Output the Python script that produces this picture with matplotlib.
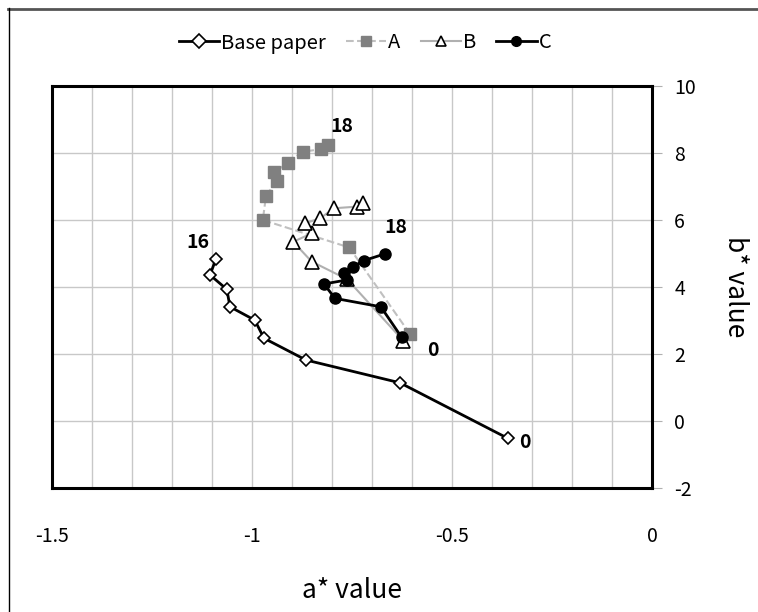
import matplotlib
matplotlib.use("Agg")
import matplotlib.pyplot as plt
from matplotlib.lines import Line2D
from matplotlib.ticker import MultipleLocator

plt.rcParams['font.family'] = ['Noto Sans CJK KR', 'DejaVu Sans']
plt.rcParams['axes.unicode_minus'] = False

# a*, b* values (time order 0 ... end)
base_a = [-0.36, -0.63, -0.865, -0.97, -0.993, -1.055, -1.063, -1.105, -1.09]
base_b = [-0.52, 1.14, 1.82, 2.47, 3.01, 3.41, 3.93, 4.36, 4.84]

a_a = [-0.605, -0.757, -0.973, -0.965, -0.938, -0.945, -0.91, -0.873, -0.828, -0.809]
a_b = [2.60, 5.18, 6.00, 6.72, 7.17, 7.42, 7.71, 8.04, 8.11, 8.24]

b_a = [-0.622, -0.762, -0.851, -0.897, -0.851, -0.868, -0.83, -0.795, -0.737, -0.723]
b_b = [2.40, 4.23, 4.76, 5.35, 5.60, 5.90, 6.05, 6.35, 6.40, 6.52]

c_a = [-0.626, -0.678, -0.7925, -0.82, -0.763, -0.77, -0.747, -0.72, -0.6675]
c_b = [2.50, 3.41, 3.66, 4.09, 4.21, 4.41, 4.61, 4.79, 4.99]

x_ticks = [-1.5, -1, -0.5, 0]
x_ticklabels = ['-1.5', '-1', '-0.5', '0']
y_ticks = [-2, 0, 2, 4, 6, 8, 10]

fig = plt.figure(figsize=(7.58, 6.12), dpi=100)
ax = fig.add_axes([52/758, 1-488/612, 600/758, 402/612])

ax.plot(base_a, base_b, '-', color='black', lw=2, marker='D', ms=6.5,
        mfc='white', mec='black', mew=1.2, label='Base paper', zorder=5)
ax.plot(a_a, a_b, '--', color='#c0c0c0', lw=1.5, marker='s', ms=9,
        mfc='#808080', mec='#808080', label='A', zorder=4)
ax.plot(b_a, b_b, '-', color='#b0b0b0', lw=1.5, marker='^', ms=10,
        mfc='white', mec='black', mew=1.2, label='B', zorder=4)
ax.plot(c_a, c_b, '-', color='black', lw=2, marker='o', ms=8,
        mfc='black', mec='black', label='C', zorder=6)

# start / end labels
lab = dict(fontsize=14, fontweight='bold', textcoords='offset points',
           ha='center', va='center')
ax.annotate('0', (base_a[0], base_b[0]), xytext=(12.5, -3), **lab)
ax.annotate('16', (base_a[-1], base_b[-1]), xytext=(-13, 12), **lab)
ax.annotate('18', (a_a[-1], a_b[-1]), xytext=(10, 13), **lab)
ax.annotate('0', (a_a[0], a_b[0]), xytext=(16.5, -12), **lab)
ax.annotate('18', (c_a[-1], c_b[-1]), xytext=(8, 19), **lab)

ax.set_xlim(-1.5, 0)
ax.set_ylim(-2, 10)
ax.set_xticks(x_ticks)
ax.set_xticklabels(x_ticklabels)
ax.xaxis.set_minor_locator(MultipleLocator(0.1))
ax.set_yticks(y_ticks)
ax.grid(True, which='both', axis='x', color='#c8c8c8', lw=1)
ax.grid(True, which='major', axis='y', color='#c8c8c8', lw=1)
ax.set_axisbelow(True)

ax.yaxis.tick_right()
ax.yaxis.set_label_position('right')
ax.tick_params(axis='y', which='major', length=7, color='#b0b0b0',
               labelsize=14, pad=9)
ax.tick_params(axis='x', which='both', length=0, labelsize=14, pad=27)

for s in ax.spines.values():
    s.set_linewidth(2.2)
    s.set_color('black')

ax.set_xlabel('a* value', fontsize=19, labelpad=22)
ax.set_ylabel('b* value', fontsize=19, rotation=270, labelpad=38)

leg = fig.legend(loc='center', bbox_to_anchor=(365/758, 1-43/612), ncol=4,
                 frameon=False, fontsize=14.5, handlelength=2.0,
                 handletextpad=0.1, columnspacing=1.0)
for h in leg.legend_handles:
    h.set_markersize(7)

# outer chart border
fig.add_artist(Line2D([8/758, 1], [1-8.5/612, 1-8.5/612], color='#555555', lw=2))
fig.add_artist(Line2D([8.5/758, 8.5/758], [0, 1-8/612], color='black', lw=1))

fig.savefig('out.png', dpi=100)
